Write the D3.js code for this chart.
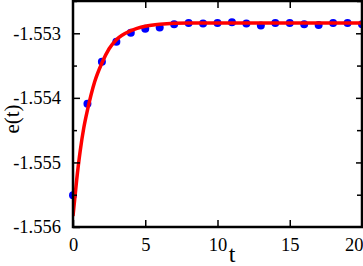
<!DOCTYPE html>
<html>
<head>
<meta charset="utf-8">
<script src="https://cdnjs.cloudflare.com/ajax/libs/d3/7.8.5/d3.min.js"></script>
<style>
  body { margin: 0; background: #fff; }
  svg text { font-family: "Liberation Serif", "DejaVu Serif", serif; }
</style>
</head>
<body>
<svg id="chart"></svg>
<script>
// measured points e(t)
var pointT = [0, 1, 2, 3, 4, 5, 6, 7, 8, 9, 10, 11, 12, 13, 14, 15, 16, 17, 18, 19, 20];
var pointE = [-1.55551, -1.55409, -1.55344, -1.55313, -1.55299, -1.55293, -1.55291, -1.55286,
    -1.55284, -1.55285, -1.55284, -1.55283, -1.55285, -1.55288, -1.55284, -1.55284,
    -1.55286, -1.55287, -1.55284, -1.55284, -1.55286];

// fitted curve
var fitT = [0, 0.25, 0.5, 0.75, 1, 1.5, 2, 2.5, 3, 4, 5, 6, 8, 12, 16, 20];
var fitE = [-1.55583, -1.55528, -1.55482, -1.55446, -1.55419, -1.55375, -1.55346, -1.55324,
    -1.55310, -1.55296, -1.55289, -1.55286, -1.55284, -1.55284, -1.55284, -1.55284];

var xTicks = [0, 5, 10, 15, 20];
var yTicks = [-1.556, -1.555, -1.554, -1.553];
var yMinorTicks = [-1.5555, -1.5545, -1.5535, -1.5525];

var width = 363, height = 266;
var margin = {left: 73, right: 1, top: 1, bottom: 39};

var svg = d3.select("#chart")
    .attr("width", width)
    .attr("height", height);

var x = d3.scaleLinear()
    .domain([0, 20])
    .range([margin.left, width - margin.right]);
var y = d3.scaleLinear()
    .domain([-1.556, -1.5525])
    .range([height - margin.bottom, margin.top]);

var plotW = width - margin.left - margin.right;
var plotH = height - margin.top - margin.bottom;

// data
svg.append("clipPath").attr("id", "clip")
    .append("rect")
    .attr("x", margin.left).attr("y", margin.top)
    .attr("width", plotW + 2).attr("height", plotH);

var dots = pointT.map(function (t, i) { return {t: t, e: pointE[i]}; });
svg.append("g")
    .selectAll("circle")
    .data(dots)
    .enter().append("circle")
    .attr("cx", function (d) { return x(d.t); })
    .attr("cy", function (d) { return y(d.e); })
    .attr("r", 4)
    .style("fill", "#0000ff");

var fit = fitT.map(function (t, i) { return {t: t, e: fitE[i]}; });
var line = d3.line()
    .x(function (d) { return x(d.t); })
    .y(function (d) { return y(d.e); })
    .curve(d3.curveMonotoneX);
svg.append("path")
    .datum(fit)
    .attr("d", line)
    .attr("clip-path", "url(#clip)")
    .style("fill", "none")
    .style("stroke", "#ff0000")
    .style("stroke-width", 3.5);

// axes, ticks pointing inward
var axisStyle = function (g) {
    g.attr("font-family", null);
    g.select(".domain").remove();
    g.selectAll(".tick line").style("stroke", "#000").style("stroke-width", 1.5);
    g.selectAll(".tick text")
        .style("font-family", "'Liberation Serif', serif")
        .style("font-size", "18.5px")
        .style("fill", "#000");
};

var xAxis = svg.append("g")
    .attr("transform", "translate(0," + (height - margin.bottom) + ")")
    .call(d3.axisBottom(x).tickValues(xTicks).tickSizeInner(-7).tickSizeOuter(0).tickPadding(11))
    .call(axisStyle);
// last label sits flush with the right edge
xAxis.selectAll(".tick text")
    .filter(function (d) { return d === 20; })
    .attr("text-anchor", "end")
    .attr("x", 1);

svg.append("g")
    .attr("transform", "translate(0," + margin.top + ")")
    .call(d3.axisTop(x).tickValues(xTicks.slice(1, -1)).tickSizeInner(-7).tickSizeOuter(0).tickFormat(""))
    .call(axisStyle);

svg.append("g")
    .attr("transform", "translate(" + margin.left + ",0)")
    .call(d3.axisLeft(y).tickValues(yTicks).tickSizeInner(-7).tickSizeOuter(0).tickPadding(12)
        .tickFormat(function (d) { return d.toFixed(3); }))
    .call(axisStyle);
svg.append("g")
    .attr("transform", "translate(" + margin.left + ",0)")
    .call(d3.axisLeft(y).tickValues(yMinorTicks).tickSizeInner(-4).tickSizeOuter(0).tickFormat(""))
    .call(axisStyle);
svg.append("g")
    .attr("transform", "translate(" + (width - margin.right) + ",0)")
    .call(d3.axisRight(y).tickValues(yTicks.slice(1)).tickSizeInner(-6).tickSizeOuter(0).tickFormat(""))
    .call(axisStyle);
svg.append("g")
    .attr("transform", "translate(" + (width - margin.right) + ",0)")
    .call(d3.axisRight(y).tickValues(yMinorTicks).tickSizeInner(-5).tickSizeOuter(0).tickFormat(""))
    .call(axisStyle);

// frame
svg.append("rect")
    .attr("x", margin.left)
    .attr("y", margin.top)
    .attr("width", plotW)
    .attr("height", plotH)
    .style("fill", "none")
    .style("stroke", "#000")
    .style("stroke-width", 2.5);

// axis titles
svg.append("text")
    .attr("x", 232)
    .attr("y", 262)
    .attr("text-anchor", "middle")
    .style("font-size", "24px")
    .text("t");
svg.append("text")
    .attr("transform", "translate(19,119) rotate(-90)")
    .attr("text-anchor", "middle")
    .style("font-size", "21px")
    .text("e(t)");
</script>
</body>
</html>
